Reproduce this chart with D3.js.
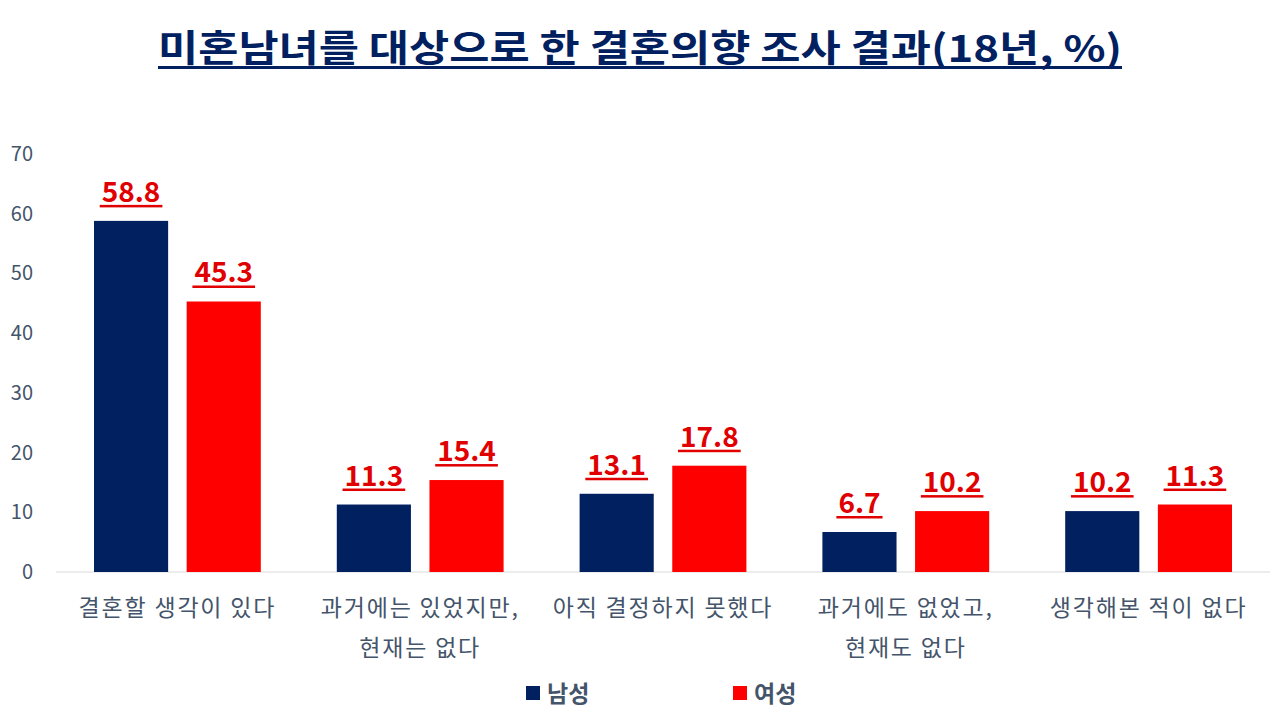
<!DOCTYPE html>
<html>
<head>
<meta charset="utf-8">
<script src="https://cdn.jsdelivr.net/npm/d3@7"></script>
<style>
  body { margin: 0; background: #fff; }
  svg { display: block; font-family: "Noto Sans CJK KR", "Noto Sans", sans-serif; }
</style>
</head>
<body>
<div id="main"></div>
<script>
// data
var categories = [
  ["결혼할 생각이 있다"],
  ["과거에는 있었지만,", "현재는 없다"],
  ["아직 결정하지 못했다"],
  ["과거에도 없었고,", "현재도 없다"],
  ["생각해본 적이 없다"]
];
var series = ["남성", "여성"];
var male = [58.8, 11.3, 13.1, 6.7, 10.2];
var female = [45.3, 15.4, 17.8, 10.2, 11.3];
var yTicks = [0, 10, 20, 30, 40, 50, 60, 70];
var title = "미혼남녀를 대상으로 한 결혼의향 조사 결과(18년, %)";

var W = 1280, H = 720;
var colors = { "남성": "#002060", "여성": "#ff0000" };
var textGray = "#44546a";

var svg = d3.select("#main").append("svg").attr("width", W).attr("height", H);

// title with underline
var titleW = 964;
svg.append("text")
  .attr("x", W / 2).attr("y", 62)
  .attr("text-anchor", "middle")
  .attr("font-size", 37).attr("font-weight", "bold")
  .attr("fill", "#002060")
  .attr("textLength", titleW).attr("lengthAdjust", "spacingAndGlyphs")
  .text(title);
svg.append("rect")
  .attr("x", W / 2 - titleW / 2).attr("y", 66)
  .attr("width", titleW).attr("height", 3)
  .attr("fill", "#002060");

var x = d3.scaleBand().domain(d3.range(categories.length)).range([56, 1270]).paddingInner(0).paddingOuter(0);
var x1 = d3.scaleBand().domain(series).range([38, x.bandwidth() - 38]).paddingInner(0.2);
var y = d3.scaleLinear().domain([0, 70]).range([572, 154]);

// y axis labels
svg.selectAll(".ytick").data(yTicks).enter().append("text")
  .attr("x", 33).attr("y", function(d) { return y(d); })
  .attr("dy", "0.35em")
  .attr("text-anchor", "end")
  .attr("font-size", 20)
  .attr("fill", textGray)
  .text(function(d) { return d; });

// baseline
svg.append("line")
  .attr("x1", 56).attr("x2", 1270)
  .attr("y1", y(0)).attr("y2", y(0))
  .attr("stroke", "#d9d9d9").attr("stroke-width", 1);

var rows = categories.map(function(c, i) {
  return { i: i, values: [{ s: "남성", v: male[i] }, { s: "여성", v: female[i] }] };
});

var groups = svg.selectAll(".grp").data(rows).enter().append("g")
  .attr("transform", function(d) { return "translate(" + x(d.i) + ",0)"; });

groups.selectAll("rect").data(function(d) { return d.values; }).enter().append("rect")
  .attr("x", function(d) { return x1(d.s); })
  .attr("y", function(d) { return y(d.v); })
  .attr("width", x1.bandwidth())
  .attr("height", function(d) { return y(0) - y(d.v); })
  .attr("fill", function(d) { return colors[d.s]; });

// value labels, red bold underlined
groups.selectAll(".lbl").data(function(d) { return d.values; }).enter().append("g")
  .each(function(d) {
    var g = d3.select(this);
    var cx = x1(d.s) + x1.bandwidth() / 2;
    var ty = y(d.v) - 19;
    var txt = g.append("text")
      .attr("x", cx).attr("y", ty)
      .attr("text-anchor", "middle")
      .attr("font-size", 28).attr("font-weight", "bold")
      .attr("fill", "#e00000")
      .text(d.v.toFixed(1));
    var w = txt.node().getComputedTextLength();
    g.append("rect")
      .attr("x", cx - w / 2 - 2).attr("y", ty + 3)
      .attr("width", w + 4).attr("height", 2.5)
      .attr("fill", "#e00000");
  });

// category labels
groups.each(function(d) {
  var g = d3.select(this);
  var lines = categories[d.i];
  var txt = g.append("text")
    .attr("x", x.bandwidth() / 2).attr("y", 616)
    .attr("text-anchor", "middle")
    .attr("font-size", 23)
    .attr("letter-spacing", 1.8)
    .attr("fill", textGray);
  lines.forEach(function(l, k) {
    txt.append("tspan").attr("x", x.bandwidth() / 2).attr("dy", k === 0 ? 0 : 40).text(l);
  });
});

// legend
var legendX = [526, 733];
series.forEach(function(s, i) {
  svg.append("rect")
    .attr("x", legendX[i]).attr("y", 686)
    .attr("width", 14).attr("height", 14)
    .attr("fill", colors[s]);
  svg.append("text")
    .attr("x", legendX[i] + 21).attr("y", 702)
    .attr("font-size", 23).attr("font-weight", "bold")
    .attr("fill", textGray)
    .text(s);
});
</script>
</body>
</html>
